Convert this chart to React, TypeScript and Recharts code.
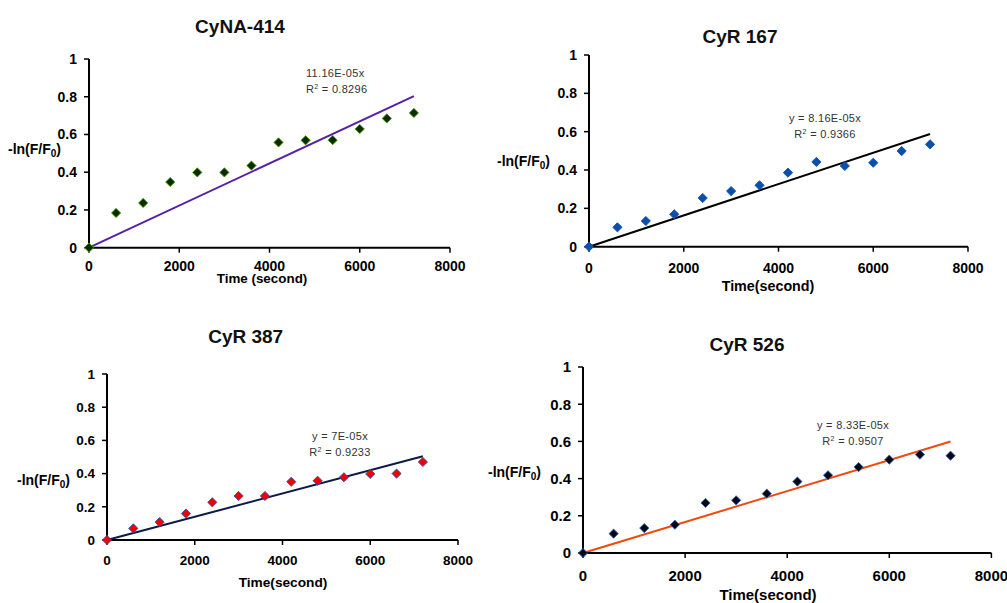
import type { CSSProperties } from 'react'
import { ReferenceLine, Scatter, ScatterChart, XAxis, YAxis } from 'recharts'

const times = [0, 600, 1200, 1800, 2400, 3000, 3600, 4200, 4800, 5400, 6000, 6600, 7200]
const cyna414 = [0, 0.184, 0.237, 0.348, 0.399, 0.399, 0.435, 0.558, 0.569, 0.57, 0.629, 0.685, 0.714]
const cyr167 = [0, 0.101, 0.134, 0.169, 0.254, 0.29, 0.32, 0.386, 0.442, 0.421, 0.438, 0.499, 0.534]
const cyr387 = [0, 0.07, 0.108, 0.159, 0.227, 0.265, 0.265, 0.351, 0.357, 0.378, 0.398, 0.4, 0.47]
const cyr526 = [0, 0.104, 0.134, 0.152, 0.269, 0.283, 0.319, 0.384, 0.418, 0.462, 0.502, 0.529, 0.523]
const yTicks = [0, 0.2, 0.4, 0.6, 0.8, 1]
const xTicks = [0, 2000, 4000, 6000, 8000]

const FONT = '"Liberation Sans", Arial, sans-serif'
const YW = 40
const XH = 32
const MT = 10
const MR = 30

type Panel = {
  title: string
  xLabel: string
  values: number[]
  slope: number
  eq: string
  r2: string
  eqAlign: 'left' | 'center'
  fill: string
  stroke: string
  lineColor: string
  // plot area in page pixels
  x0: number
  x8: number
  y1: number
  y0: number
  fontSize: number
  xTickMargin: number
  titleAt: [number, number]
  xLabelAt: [number, number]
  yLabelAt: [number, number]
  eqAt: [number, number]
  xLabelSize: number
}

const panels: Panel[] = [
  {
    title: 'CyNA-414', xLabel: 'Time (second)', values: cyna414, slope: 11.16e-5,
    eq: '11.16E-05x', r2: '0.8296', eqAlign: 'left',
    fill: '#0b2a00', stroke: '#3fa000', lineColor: '#5520a8',
    x0: 89, x8: 450, y1: 59.3, y0: 248, fontSize: 14, xTickMargin: 8,
    titleAt: [240, 27], xLabelAt: [262, 278.5], yLabelAt: [8, 150], eqAt: [306, 74], xLabelSize: 13.4,
  },
  {
    title: 'CyR 167', xLabel: 'Time(second)', values: cyr167, slope: 8.16e-5,
    eq: 'y = 8.16E-05x', r2: '0.9366', eqAlign: 'center',
    fill: '#0b4fae', stroke: '#0b4fae', lineColor: '#000000',
    x0: 589.3, x8: 968.3, y1: 55, y0: 246.7, fontSize: 14, xTickMargin: 11.5,
    titleAt: [740, 37], xLabelAt: [768, 286], yLabelAt: [497, 162], eqAt: [825, 119], xLabelSize: 14.3,
  },
  {
    title: 'CyR 387', xLabel: 'Time(second)', values: cyr387, slope: 7e-5,
    eq: 'y = 7E-05x', r2: '0.9233', eqAlign: 'center',
    fill: '#f00000', stroke: '#3050b0', lineColor: '#0d1a45',
    x0: 106.7, x8: 457.7, y1: 374, y0: 540, fontSize: 13.5, xTickMargin: 10.5,
    titleAt: [245.7, 337], xLabelAt: [283, 583], yLabelAt: [17, 481], eqAt: [340, 437], xLabelSize: 13.7,
  },
  {
    title: 'CyR 526', xLabel: 'Time(second)', values: cyr526, slope: 8.33e-5,
    eq: 'y = 8.33E-05x', r2: '0.9507', eqAlign: 'center',
    fill: '#020814', stroke: '#3060c0', lineColor: '#f04a0a',
    x0: 583.3, x8: 991.7, y1: 367.3, y0: 553.3, fontSize: 15, xTickMargin: 12,
    titleAt: [747, 345], xLabelAt: [768, 594], yLabelAt: [488, 473], eqAt: [853, 426], xLabelSize: 15,
  },
]

function Diamond(props: any) {
  const { cx, cy, fill, stroke } = props
  const r = 4.6
  return (
    <polygon
      points={`${cx},${cy - r} ${cx + r},${cy} ${cx},${cy + r} ${cx - r},${cy}`}
      fill={fill}
      stroke={stroke}
      strokeWidth={0.9}
    />
  )
}

const abs = (x: number, y: number): CSSProperties => ({
  position: 'absolute',
  left: x,
  top: y,
  whiteSpace: 'nowrap',
  fontFamily: FONT,
  lineHeight: 1,
})

function PanelChart({ p }: { p: Panel }) {
  const data = times.map((t, i) => ({ t, v: p.values[i] }))
  const width = YW + (p.x8 - p.x0) + MR
  const height = MT + (p.y0 - p.y1) + XH
  const tick = { fill: '#000', fontSize: p.fontSize, fontWeight: 700, fontFamily: FONT }
  const eqStyle: CSSProperties = {
    ...abs(p.eqAt[0], p.eqAt[1] - 6),
    fontSize: 11,
    color: '#333',
    letterSpacing: 0.3,
    transform: p.eqAlign === 'center' ? 'translateX(-50%)' : undefined,
    textAlign: p.eqAlign,
  }
  return (
    <>
      <div style={{ position: 'absolute', left: p.x0 - YW, top: p.y1 - MT }}>
        <ScatterChart width={width} height={height} margin={{ top: MT, right: MR, bottom: 0, left: 0 }}>
          <XAxis
            type="number"
            dataKey="t"
            domain={[0, 8000]}
            ticks={xTicks}
            height={XH}
            tick={tick}
            tickSize={5}
            tickMargin={p.xTickMargin}
            axisLine={{ stroke: '#000', strokeWidth: 2 }}
            tickLine={{ stroke: '#000', strokeWidth: 1.5 }}
            interval={0}
          />
          <YAxis
            type="number"
            dataKey="v"
            domain={[0, 1]}
            ticks={yTicks}
            width={YW}
            tick={tick}
            tickSize={5}
            tickMargin={7}
            axisLine={{ stroke: '#000', strokeWidth: 2 }}
            tickLine={{ stroke: '#000', strokeWidth: 1.5 }}
            interval={0}
          />
          <ReferenceLine
            segment={[{ x: 0, y: 0 }, { x: 7200, y: p.slope * 7200 }]}
            stroke={p.lineColor}
            strokeWidth={2}
          />
          <Scatter
            data={data}
            fill={p.fill}
            stroke={p.stroke}
            shape={<Diamond />}
            isAnimationActive={false}
          />
        </ScatterChart>
      </div>
      <div style={{ ...abs(p.titleAt[0], p.titleAt[1] - 10), fontSize: 19, fontWeight: 700, transform: 'translateX(-50%)', color: '#111' }}>
        {p.title}
      </div>
      <div style={{ ...abs(p.xLabelAt[0], p.xLabelAt[1] - 7), fontSize: p.xLabelSize, fontWeight: 700, transform: 'translateX(-50%)' }}>
        {p.xLabel}
      </div>
      <div style={{ ...abs(p.yLabelAt[0], p.yLabelAt[1] - 8), fontSize: 14, fontWeight: 700 }}>
        -ln(F/F<sub style={{ fontSize: 10, verticalAlign: -3 }}>0</sub>)
      </div>
      <div style={eqStyle}>
        {p.eq}
        <br />
        <span style={{ lineHeight: '15px' }}>
          R<sup style={{ fontSize: 7, verticalAlign: 4 }}>2</sup> = {p.r2}
        </span>
      </div>
    </>
  )
}

export default function App() {
  return (
    <div style={{ position: 'absolute', left: 0, top: 0, width: 1007, height: 603, background: '#fff', overflow: 'hidden' }}>
      {panels.map((p) => (
        <PanelChart key={p.title} p={p} />
      ))}
    </div>
  )
}
